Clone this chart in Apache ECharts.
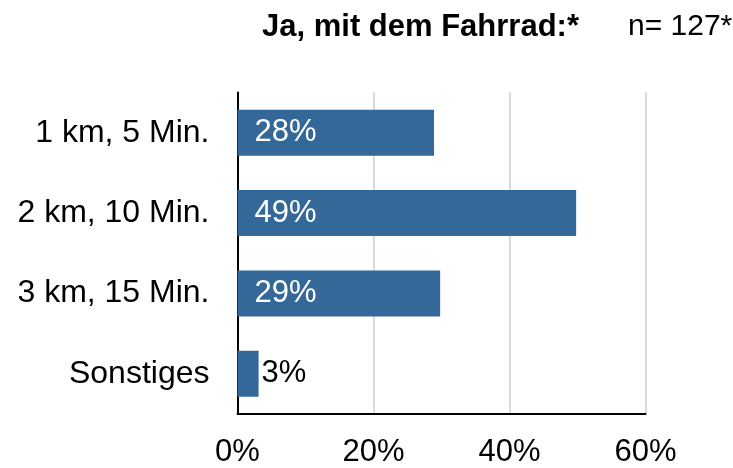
<!DOCTYPE html>
<html>
<head>
<meta charset="utf-8">
<script src="https://cdn.jsdelivr.net/npm/echarts@6/dist/echarts.min.js"></script>
<style>
  html, body { margin: 0; padding: 0; background: #fff; }
  #chart { width: 733px; height: 468px; }
</style>
</head>
<body>
<div id="chart"></div>
<script>
  // Antworten auf "Ja, mit dem Fahrrad"
  const categories = ['1 km, 5 Min.', '2 km, 10 Min.', '3 km, 15 Min.', 'Sonstiges']
  const shares = [28.9, 49.8, 29.8, 3.1]   // Balkenlänge in %
  const xTicks = [0, 20, 40, 60]

  const font = '"Liberation Sans", Arial, sans-serif'
  const chart = echarts.init(document.getElementById('chart'))

  chart.setOption({
    animation: false,
    textStyle: { fontFamily: font },
    title: [
      {
        text: 'Ja, mit dem Fahrrad:*',
        left: 257,
        top: 7,
        textStyle: { fontSize: 31, fontWeight: 'bold', color: '#000', fontFamily: font }
      },
      {
        text: 'n= 127*',
        left: 623,
        top: 7,
        textStyle: { fontSize: 30, fontWeight: 'normal', color: '#000', fontFamily: font }
      }
    ],
    grid: {
      left: 237.5,
      right: 87.5,
      top: 92.5,
      bottom: 53,
      containLabel: false
    },
    xAxis: {
      type: 'value',
      min: xTicks[0],
      max: xTicks[xTicks.length - 1],
      interval: 20,
      axisLine: { show: true, lineStyle: { color: '#000', width: 2 } },
      axisTick: { show: false },
      axisLabel: {
        formatter: '{value}%',
        fontSize: 31,
        color: '#000',
        margin: 23
      },
      splitLine: { lineStyle: { color: '#d9d9d9', width: 2 } }
    },
    yAxis: {
      type: 'category',
      inverse: true,
      data: categories,
      axisLine: { show: true, lineStyle: { color: '#000', width: 2 } },
      axisTick: { show: false },
      axisLabel: { fontSize: 32, color: '#000', margin: 28 },
      splitLine: { show: false }
    },
    series: [
      {
        type: 'bar',
        barWidth: 46,
        itemStyle: { color: '#346898' },
        label: {
          show: true,
          position: 'insideLeft',
          distance: 17,
          color: '#fff',
          fontSize: 31,
          formatter: p => Math.floor(p.value) + '%'
        },
        data: shares.map(v => ({
          value: v,
          // kleine Balken: Beschriftung außen
          label: v < 10 ? { position: 'right', distance: 3, color: '#000' } : {}
        }))
      }
    ]
  })
</script>
</body>
</html>
